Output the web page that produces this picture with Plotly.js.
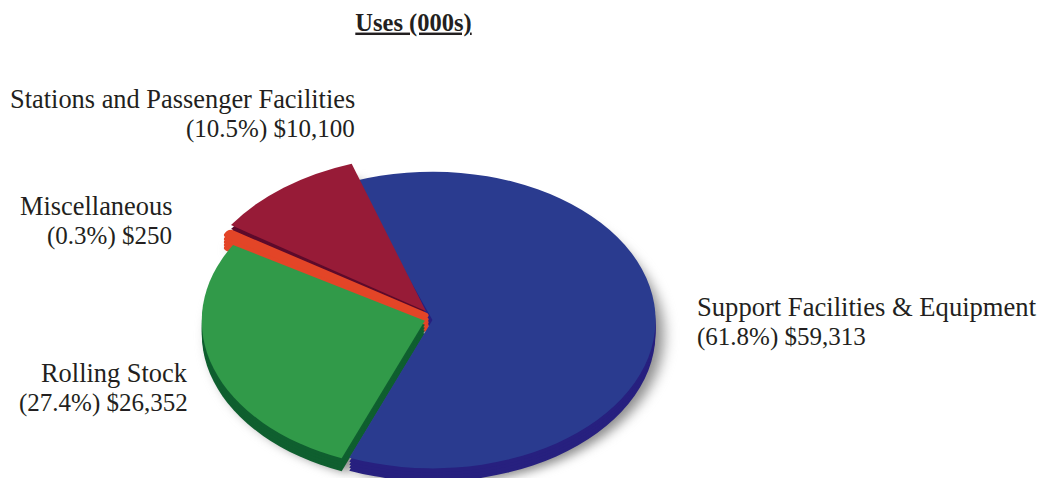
<!DOCTYPE html>
<html><head><meta charset="utf-8">
<script src="https://cdn.plot.ly/plotly-3.0.1.min.js"></script>
<style>html,body{margin:0;padding:0;background:#fff}#chart{width:1045px;height:478px}</style>
</head><body><div id="chart"></div>
<script>
const categories = ["Support Facilities & Equipment","Rolling Stock","Miscellaneous","Stations and Passenger Facilities"];
const values = [59313,26352,250,10100];
const percents = ["61.8%","27.4%","0.3%","10.5%"];
const amounts = ["$59,313","$26,352","$250","$10,100"];
const faceColors = ["#2a3b8f","#319a49","#e34527","#971b37"];
const sideColors = ["#27207f","#0f5f2f","#e34527","#5c0a2b"];
const shadowColors = ["#8c8c8c","#8c8c8c","#8c8c8c","#8c8c8c"];
const pulls = [0.02,0.015,0,0];
const W=1045,H=478,CX=428,CY=320,SQ=0.665;
const FONT='"Liberation Serif", serif', INK='#231f20';
function pie(colors){return {type:'pie',values:values,labels:categories,sort:false,direction:'clockwise',rotation:-20.5,
  pull:pulls,textinfo:'none',hoverinfo:'skip',showlegend:false,
  domain:{x:[(CX-H/2)/W,(CX+H/2)/W],y:[0.024,0.976]},
  marker:{colors:colors,line:{color:colors,width:[0,0,9,0]}}};}
const offsets=[{dx:8,dy:15,blur:true},{dx:0,dy:13},{dx:0,dy:10},{dx:0,dy:7},{dx:0,dy:4},{dx:0,dy:0}];
const traces=offsets.map((o,i)=>pie(i===0?shadowColors:(i===offsets.length-1?faceColors:sideColors)));
const sliceShift={2:{tx:-4,ty:-7,k:1.03,rot:1},3:{tx:-2,ty:-13,k:1.05,rot:2}};
function text(str,px,py,anchor,size){return {xref:'paper',yref:'paper',x:px/W,y:1-py/H,xanchor:anchor,yanchor:'middle',align:anchor,showarrow:false,
  text:str,font:{family:FONT,size:size,color:INK}};}
function label(i,px,py,anchor,size){return [text(categories[i].replace('&','&amp;'),px,py,anchor,size),
  text('('+percents[i]+') '+amounts[i],px,py+30,anchor,25)];}
const layout={width:W,height:H,margin:{l:0,r:0,t:0,b:0},paper_bgcolor:'#fff',showlegend:false,
  title:{text:'<b><u>Uses (000s)</u></b>',x:413.5/W,xanchor:'center',y:1-22/H,yanchor:'middle',font:{family:FONT,size:24.5,color:INK}},
  annotations:[].concat(label(3,357,99,'right',26.4),label(2,174,206,'right',26.4),label(1,190,373,'right',26.4),label(0,695,307,'left',26.6))};
Plotly.newPlot('chart',traces,layout,{displayModeBar:false,staticPlot:true}).then(()=>{
  document.querySelectorAll('.pielayer .trace').forEach((g,i)=>{
    const o=offsets[i];
    g.setAttribute('transform','translate('+o.dx+','+(CY+o.dy-SQ*H/2)+') scale(1,'+SQ+')');
    if(o.blur) g.style.filter='blur(7px)';
    g.querySelectorAll('.slice').forEach((s,j)=>{
      const m=sliceShift[j];
      if(m) s.setAttribute('transform','translate('+(CX+m.tx)+','+(H/2+m.ty)+') rotate('+m.rot+') scale('+m.k+') translate('+(-CX)+','+(-H/2)+')');
    });
  });
});
</script></body></html>
